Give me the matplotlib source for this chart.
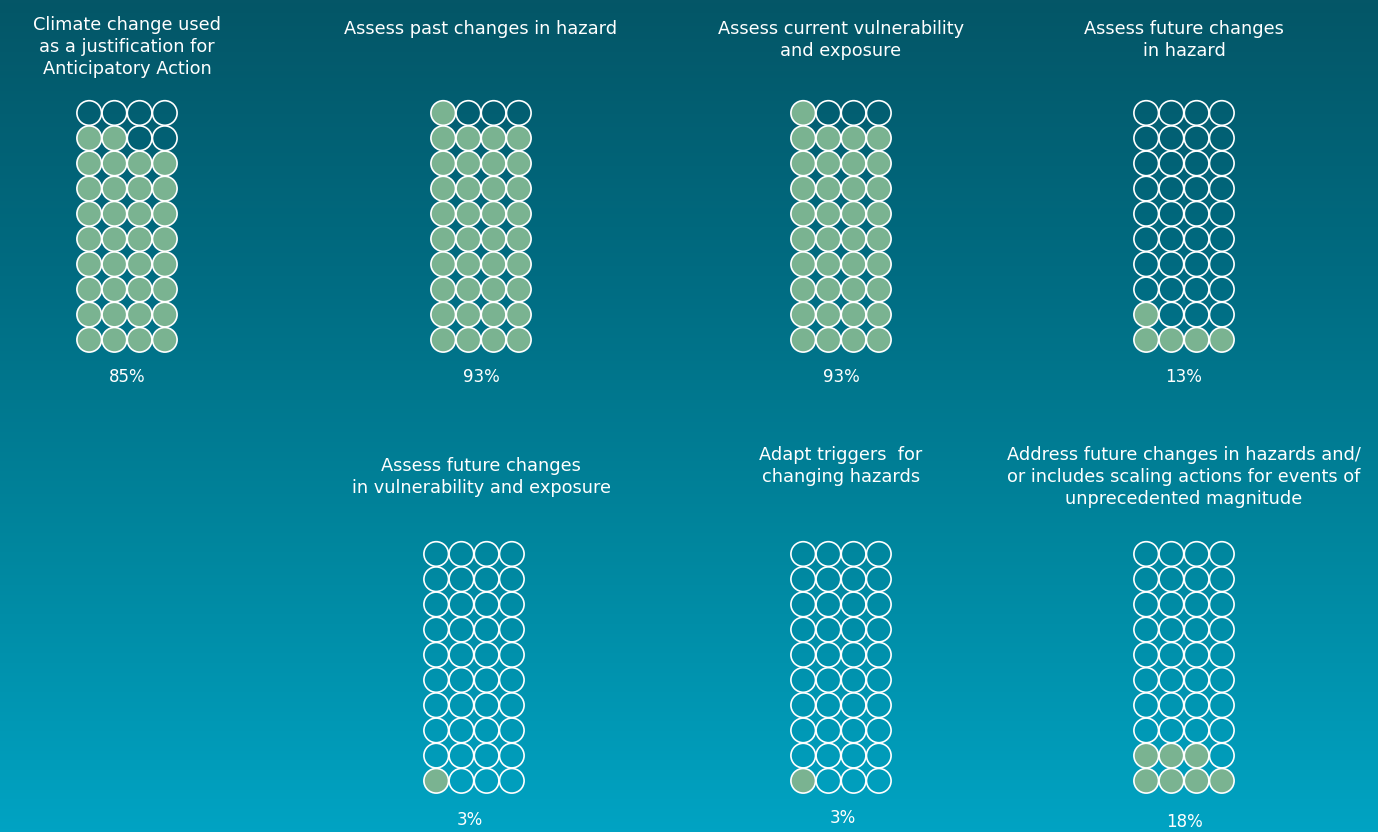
import matplotlib
matplotlib.use("Agg")
import matplotlib.pyplot as plt
import numpy as np
from matplotlib.patches import Circle
from matplotlib.colors import LinearSegmentedColormap

# ---- data ----
titles = [
    "Climate change used\nas a justification for\nAnticipatory Action",
    "Assess past changes in hazard",
    "Assess current vulnerability\nand exposure",
    "Assess future changes\nin hazard",
    "Assess future changes\nin vulnerability and exposure",
    "Adapt triggers  for\nchanging hazards",
    "Address future changes in hazards and/\nor includes scaling actions for events of\nunprecedented magnitude",
]
filled_counts = [34, 37, 37, 5, 1, 1, 7]
pct_labels = ["85%", "93%", "93%", "13%", "3%", "3%", "18%"]
n_cols, n_rows = 4, 10

# ---- layout (pixel coordinates) ----
W, H = 1378, 832
grid_cx = [127, 481, 841, 1184, 474, 841, 1184]
grid_top = [113, 113, 113, 113, 554, 554, 554]
title_cx = [127, 481, 841, 1184, 481, 841, 1184]
title_top = [16, 20, 20, 20, 457, 446, 446]
pct_cx = [127, 481, 841, 1184, 470, 843, 1184]
pct_y = [377, 377, 377, 377, 820, 818, 822]
pitch = 25.2
radius = 12.3

fig = plt.figure(figsize=(W / 100, H / 100), dpi=100)
ax = fig.add_axes([0, 0, 1, 1])
ax.set_xlim(0, W)
ax.set_ylim(H, 0)
ax.axis("off")

cmap = LinearSegmentedColormap.from_list(
    "bg", ["#045667", "#006c82", "#00879f", "#00a3c3"])
grad = np.linspace(0, 1, 256).reshape(-1, 1)
ax.imshow(grad, extent=[0, W, H, 0], cmap=cmap, aspect="auto", zorder=0)

fill_color = "#7ab391"
font = ["DejaVu Sans"]

for i in range(len(titles)):
    x0 = grid_cx[i] - pitch * (n_cols - 1) / 2
    for k in range(n_cols * n_rows):
        r = k // n_cols          # row from bottom
        c = k % n_cols
        cx = x0 + c * pitch
        cy = grid_top[i] + (n_rows - 1 - r) * pitch
        filled = k < filled_counts[i]
        ax.add_patch(Circle((cx, cy), radius,
                            facecolor=fill_color if filled else "none",
                            edgecolor="white", linewidth=1.2, zorder=2))
    ax.text(title_cx[i], title_top[i], titles[i], ha="center", va="top",
            color="white", fontsize=12.8, family=font, linespacing=1.3,
            zorder=3)
    ax.text(pct_cx[i], pct_y[i], pct_labels[i], ha="center", va="center",
            color="white", fontsize=12, family=font, zorder=3)

fig.savefig("out.png", dpi=100)
